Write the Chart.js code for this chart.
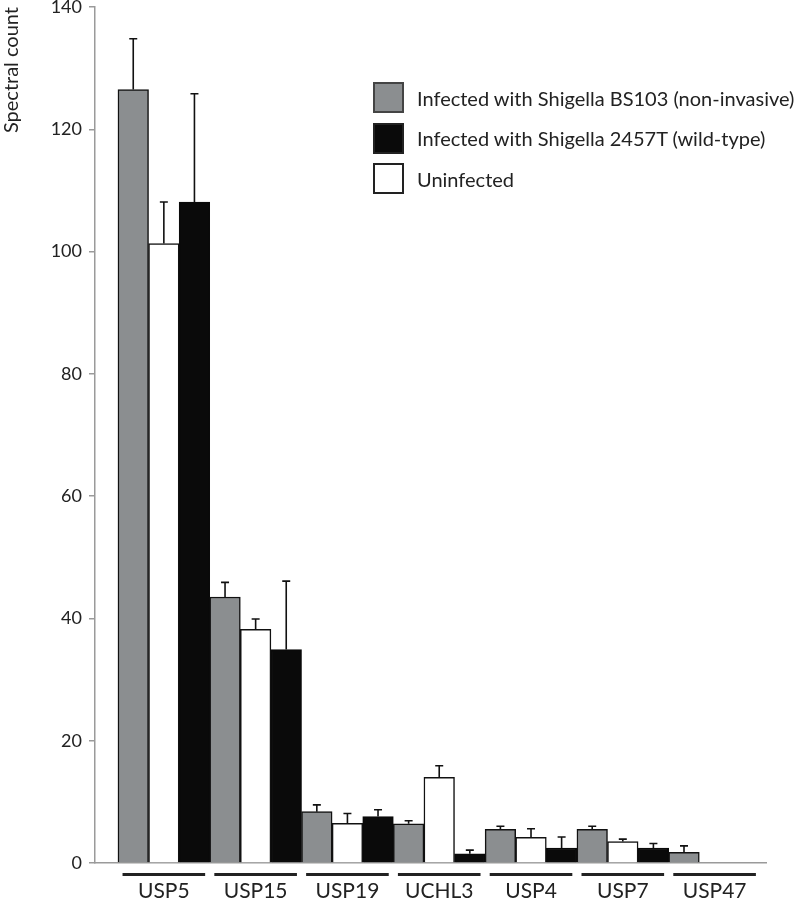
<!DOCTYPE html>
<html>
<head>
<meta charset="utf-8">
<script src="https://cdn.jsdelivr.net/npm/chart.js@4.4.1/dist/chart.umd.min.js"></script>
<style>
  body { margin: 0; background: #fff; }
  #wrap { position: relative; width: 800px; height: 901px; }
  #legend { position: absolute; left: 373px; top: 82px; font-family: Lato, sans-serif; font-size: 20px; color: #222; }
  .item { display: flex; align-items: center; height: 31px; margin-bottom: 9.5px; white-space: nowrap; }
  .box { width: 31px; height: 31px; box-sizing: border-box; border: 2px solid #222; margin-right: 13px; flex: none; }
</style>
</head>
<body>
<div id="wrap">
  <canvas id="chart"></canvas>
  <div id="legend"></div>
</div>
<script>
// proteins (groups along the x axis)
const groups = ["USP5", "USP15", "USP19", "UCHL3", "USP4", "USP7", "USP47"];

// spectral counts and upper error (SD) per condition
const bs103 = [126.5, 43.5, 8.4, 6.4, 5.5, 5.5, 1.75];
const bs103Err = [8.3, 2.4, 1.1, 0.5, 0.5, 0.5, 1.05];
const uninfected = [101.3, 38.2, 6.5, 14.0, 4.2, 3.5, 0];
const uninfectedErr = [6.8, 1.7, 1.6, 1.9, 1.4, 0.4, 0];
const wildType = [108.1, 34.9, 7.6, 1.5, 2.45, 2.45, 0];
const wildTypeErr = [17.7, 11.2, 1.1, 0.6, 1.8, 0.75, 0];

const yTicks = [0, 20, 40, 60, 80, 100, 120, 140];

const axisGrey = "#9a9a9a";
const ink = "#222";

const toPoints = (vals) => vals.map((v, i) => ({ x: i, y: v }));

// error bars, drawn up from each bar top
const errorBars = {
  id: "errorBars",
  afterDatasetsDraw(chart) {
    const ctx = chart.ctx;
    const y = chart.scales.y;
    ctx.save();
    ctx.strokeStyle = "#111";
    ctx.lineWidth = 1.6;
    chart.data.datasets.forEach((ds, d) => {
      const meta = chart.getDatasetMeta(d);
      meta.data.forEach((bar, i) => {
        const err = ds.errors[i];
        if (!err) return;
        const top = y.getPixelForValue(ds.data[i].y + err);
        ctx.beginPath();
        ctx.moveTo(bar.x, bar.y);
        ctx.lineTo(bar.x, top);
        ctx.moveTo(bar.x - 4, top);
        ctx.lineTo(bar.x + 4, top);
        ctx.stroke();
      });
    });
    ctx.restore();
  },
};

// thick bar under each group, above its label
const groupLines = {
  id: "groupLines",
  afterDraw(chart) {
    const ctx = chart.ctx;
    const x = chart.scales.x;
    const unit = x.getPixelForValue(1) - x.getPixelForValue(0);
    ctx.save();
    ctx.strokeStyle = ink;
    ctx.lineWidth = 3;
    groups.forEach((g, i) => {
      const c = x.getPixelForValue(i);
      ctx.beginPath();
      ctx.moveTo(c - unit * 0.45, x.top + 11.5);
      ctx.lineTo(c + unit * 0.45, x.top + 11.5);
      ctx.stroke();
    });
    ctx.restore();
  },
};

const ctx = document.getElementById("chart").getContext("2d");
const chart = new Chart(ctx, {
  type: "bar",
  data: {
    datasets: [
      {
        label: "Infected with Shigella BS103 (non-invasive)",
        data: toPoints(bs103),
        errors: bs103Err,
        backgroundColor: "#8b8e90",
        borderColor: "#111",
        borderWidth: 1.5,
      },
      {
        label: "Uninfected",
        data: toPoints(uninfected),
        errors: uninfectedErr,
        backgroundColor: "#ffffff",
        borderColor: "#111",
        borderWidth: 1.5,
      },
      {
        label: "Infected with Shigella 2457T (wild-type)",
        data: toPoints(wildType),
        errors: wildTypeErr,
        backgroundColor: "#0a0a0a",
        borderColor: "#0a0a0a",
        borderWidth: 1.5,
      },
    ],
  },
  options: {
    responsive: true,
    maintainAspectRatio: false,
    animation: false,
    layout: { padding: { left: 0, right: 34, top: 0, bottom: 0 } },
    datasets: { bar: { categoryPercentage: 1, barPercentage: 1 } },
    plugins: { legend: { display: false }, tooltip: { enabled: false } },
    scales: {
      x: {
        type: "linear",
        offset: false,
        min: -0.75,
        max: 6.56,
        grid: { display: false, drawTicks: false, tickLength: 0 },
        border: { display: true, color: axisGrey, width: 1.5 },
        ticks: {
          stepSize: 1,
          includeBounds: false,
          autoSkip: false,
          maxRotation: 0,
          padding: 16,
          color: ink,
          font: { family: "Lato", size: 21 },
          callback: (v) => (Number.isInteger(v) ? groups[v] : ""),
        },
        afterFit: (scale) => { scale.height = 38; },
      },
      y: {
        min: 0,
        max: 140,
        afterBuildTicks: (scale) => { scale.ticks = yTicks.map((v) => ({ value: v })); },
        grid: { drawOnChartArea: false, drawTicks: true, tickLength: 6, color: axisGrey, lineWidth: 1.5 },
        border: { display: true, color: axisGrey, width: 1.5 },
        ticks: { padding: 7, color: ink, font: { family: "Lato", size: 18, lineHeight: 1 } },
        title: {
          display: true,
          text: "Spectral count",
          align: "end",
          color: ink,
          padding: 0,
          font: { family: "Lato", size: 20 },
        },
        afterFit: (scale) => {
          scale.width = 95;
          scale.paddingTop = 7;
          scale.paddingBottom = 0;
        },
      },
    },
  },
  plugins: [errorBars, groupLines],
});

// legend in the reference order: grey, black, white
const legend = document.getElementById("legend");
[0, 2, 1].forEach((d) => {
  const ds = chart.data.datasets[d];
  const item = document.createElement("div");
  item.className = "item";
  const box = document.createElement("span");
  box.className = "box";
  box.style.background = ds.backgroundColor;
  if (d === 0) box.style.borderColor = "#444";
  const label = document.createElement("span");
  label.textContent = ds.label;
  item.appendChild(box);
  item.appendChild(label);
  legend.appendChild(item);
});
</script>
</body>
</html>
